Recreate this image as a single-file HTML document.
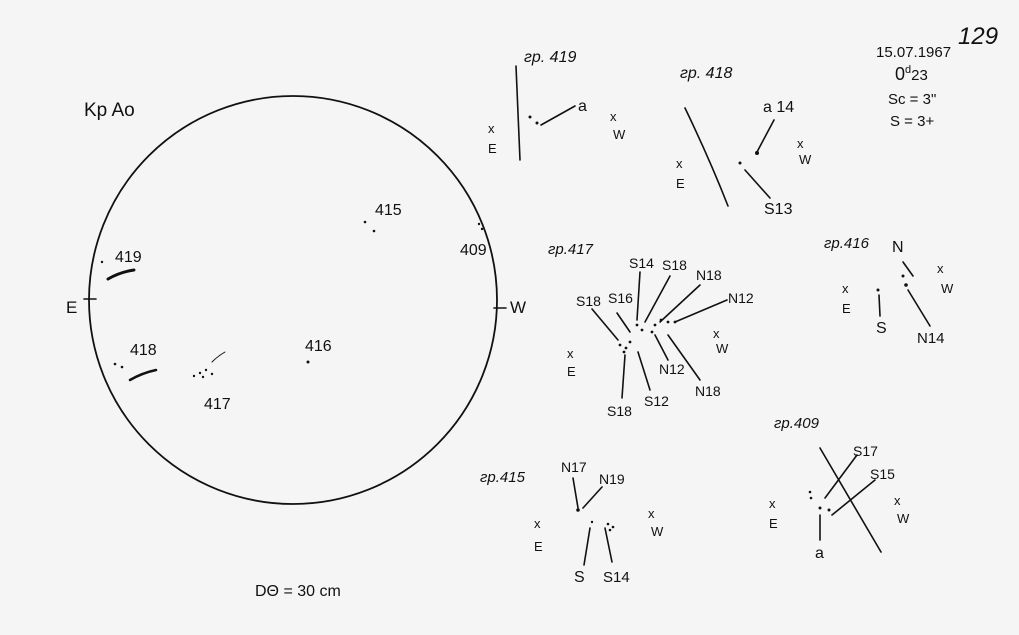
<!DOCTYPE html>
<html><head><meta charset="utf-8"><style>
html,body{margin:0;padding:0;background:#f5f5f5;}
svg{display:block}
text{font-family:"Liberation Sans","Noto Sans CJK SC",sans-serif;fill:#111}
</style></head><body>
<svg width="1019" height="635" viewBox="0 0 1019 635" xmlns="http://www.w3.org/2000/svg">
<rect width="1019" height="635" fill="#f5f5f5"/>
<g stroke="#111" stroke-width="1.6" fill="none" stroke-linecap="round">
<circle cx="293" cy="300" r="204" stroke-width="1.8"/>
<line x1="84" y1="299" x2="96" y2="299"/>
<line x1="494" y1="308" x2="506" y2="308"/>
<path d="M108 279 Q120 272 134 270" stroke-width="3"/>
<path d="M130 380 Q142 373 156 370" stroke-width="2.5"/>
<path d="M212 362 Q218 356 225 352" stroke-width="1"/>
<!-- 419 -->
<line x1="516" y1="66" x2="520" y2="160"/>
<line x1="541" y1="125" x2="575" y2="106"/>
<!-- 418 -->
<path d="M685 108 Q710 160 728 206"/>
<line x1="774" y1="120" x2="757" y2="152"/>
<line x1="745" y1="170" x2="770" y2="198"/>
<!-- 417 -->
<line x1="592" y1="309" x2="618" y2="340"/>
<line x1="617" y1="313" x2="630" y2="332"/>
<line x1="640" y1="272" x2="637" y2="320"/>
<line x1="670" y1="276" x2="645" y2="322"/>
<line x1="700" y1="285" x2="660" y2="322"/>
<line x1="727" y1="300" x2="675" y2="322"/>
<line x1="625" y1="355" x2="622" y2="398"/>
<line x1="638" y1="352" x2="650" y2="390"/>
<line x1="655" y1="335" x2="668" y2="360"/>
<line x1="668" y1="335" x2="700" y2="380"/>
<!-- 416 -->
<line x1="903" y1="262" x2="913" y2="276"/>
<line x1="879" y1="295" x2="880" y2="316"/>
<line x1="908" y1="290" x2="930" y2="326"/>
<!-- 409 -->
<line x1="820" y1="448" x2="881" y2="552"/>
<line x1="825" y1="498" x2="857" y2="455"/>
<line x1="832" y1="515" x2="875" y2="480"/>
<line x1="820" y1="515" x2="820" y2="540"/>
<!-- 415 -->
<line x1="573" y1="478" x2="578" y2="508"/>
<line x1="602" y1="487" x2="583" y2="508"/>
<line x1="590" y1="528" x2="584" y2="565"/>
<line x1="605" y1="528" x2="612" y2="562"/>
</g>
<g fill="#111">
<circle cx="102" cy="262" r="1.2"/>
<circle cx="365" cy="222" r="1.3"/><circle cx="374" cy="231" r="1.3"/>
<circle cx="479" cy="224" r="1.2"/><circle cx="482" cy="229" r="1.2"/>
<circle cx="115" cy="364" r="1.3"/><circle cx="122" cy="367" r="1.3"/>
<circle cx="194" cy="376" r="1.2"/><circle cx="200" cy="373" r="1.2"/><circle cx="206" cy="370" r="1.2"/><circle cx="212" cy="374" r="1.2"/><circle cx="203" cy="377" r="1.2"/>
<circle cx="308" cy="362" r="1.5"/>
<circle cx="530" cy="117" r="1.5"/><circle cx="537" cy="123" r="1.5"/>
<circle cx="757" cy="153" r="2"/><circle cx="740" cy="163" r="1.5"/>
<circle cx="620" cy="345" r="1.4"/><circle cx="626" cy="348" r="1.4"/><circle cx="630" cy="342" r="1.4"/><circle cx="624" cy="352" r="1.4"/><circle cx="637" cy="325" r="1.4"/><circle cx="642" cy="330" r="1.4"/><circle cx="655" cy="325" r="1.4"/><circle cx="661" cy="320" r="1.4"/><circle cx="668" cy="322" r="1.4"/><circle cx="675" cy="322" r="1.4"/><circle cx="652" cy="332" r="1.4"/>
<circle cx="903" cy="276" r="1.5"/><circle cx="878" cy="290" r="1.5"/><circle cx="906" cy="285" r="1.8"/>
<circle cx="810" cy="492" r="1.3"/><circle cx="811" cy="498" r="1.3"/><circle cx="820" cy="508" r="1.5"/><circle cx="829" cy="510" r="1.5"/>
<circle cx="578" cy="510" r="1.8"/><circle cx="592" cy="522" r="1.2"/><circle cx="608" cy="524" r="1.3"/><circle cx="613" cy="527" r="1.3"/><circle cx="610" cy="530" r="1.3"/>
</g>
<g font-size="16">
<text x="84" y="116" font-size="19">Kp Ao</text>
<text x="66" y="313" font-size="17">E</text>
<text x="510" y="313" font-size="17">W</text>
<text x="115" y="262">419</text>
<text x="375" y="215">415</text>
<text x="460" y="255">409</text>
<text x="130" y="355">418</text>
<text x="204" y="409">417</text>
<text x="305" y="351">416</text>
<text x="255" y="596">DΘ = 30 cm</text>
<text x="958" y="44" font-size="24" font-style="italic">129</text>
<text x="876" y="57" font-size="15">15.07.1967</text>
<text x="895" y="80" font-size="18">0<tspan font-size="11" dy="-7">d</tspan><tspan dy="7" font-size="15">23</tspan></text>
<text x="888" y="104" font-size="15">Sc = 3"</text>
<text x="890" y="126" font-size="15">S = 3+</text>
<text x="524" y="62" font-style="italic">гр. 419</text>
<text x="578" y="111">a</text>
<text x="488" y="133" font-size="13">x</text><text x="488" y="153" font-size="13">E</text>
<text x="610" y="121" font-size="13">x</text><text x="613" y="139" font-size="13">W</text>
<text x="680" y="78" font-style="italic">гр. 418</text>
<text x="763" y="112">a 14</text>
<text x="764" y="214">S13</text>
<text x="797" y="148" font-size="13">x</text><text x="799" y="164" font-size="13">W</text>
<text x="676" y="168" font-size="13">x</text><text x="676" y="188" font-size="13">E</text>
<text x="548" y="254" font-style="italic" font-size="15">гр.417</text>
<text x="629" y="268" font-size="14">S14</text>
<text x="662" y="270" font-size="14">S18</text>
<text x="696" y="280" font-size="14">N18</text>
<text x="728" y="303" font-size="14">N12</text>
<text x="576" y="306" font-size="14">S18</text>
<text x="608" y="303" font-size="14">S16</text>
<text x="713" y="338" font-size="13">x</text><text x="716" y="353" font-size="13">W</text>
<text x="567" y="358" font-size="13">x</text><text x="567" y="376" font-size="13">E</text>
<text x="659" y="374" font-size="14">N12</text>
<text x="695" y="396" font-size="14">N18</text>
<text x="607" y="416" font-size="14">S18</text>
<text x="644" y="406" font-size="14">S12</text>
<text x="824" y="248" font-style="italic" font-size="15">гр.416</text>
<text x="892" y="252">N</text>
<text x="937" y="273" font-size="13">x</text><text x="941" y="293" font-size="13">W</text>
<text x="842" y="293" font-size="13">x</text><text x="842" y="313" font-size="13">E</text>
<text x="876" y="333">S</text>
<text x="917" y="343" font-size="15">N14</text>
<text x="774" y="428" font-style="italic" font-size="15">гр.409</text>
<text x="853" y="456" font-size="14">S17</text>
<text x="870" y="479" font-size="14">S15</text>
<text x="894" y="505" font-size="13">x</text><text x="897" y="523" font-size="13">W</text>
<text x="769" y="508" font-size="13">x</text><text x="769" y="528" font-size="13">E</text>
<text x="815" y="558">a</text>
<text x="480" y="482" font-style="italic" font-size="15">гр.415</text>
<text x="561" y="472" font-size="14">N17</text>
<text x="599" y="484" font-size="14">N19</text>
<text x="648" y="518" font-size="13">x</text><text x="651" y="536" font-size="13">W</text>
<text x="534" y="528" font-size="13">x</text><text x="534" y="551" font-size="13">E</text>
<text x="574" y="582">S</text>
<text x="603" y="582" font-size="15">S14</text>
</g>
</svg>
</body></html>
